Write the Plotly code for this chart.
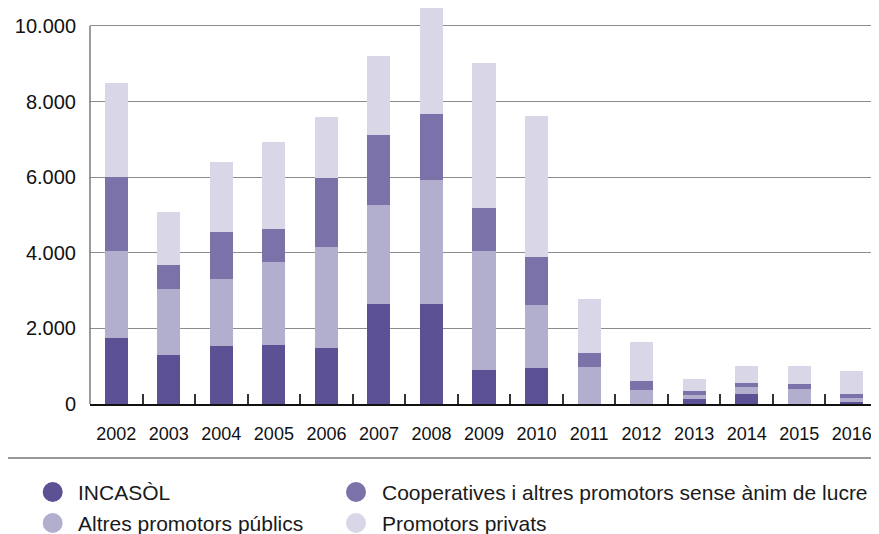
import plotly.graph_objects as go

years = ["2002", "2003", "2004", "2005", "2006", "2007", "2008", "2009",
         "2010", "2011", "2012", "2013", "2014", "2015", "2016"]
incasol = [1750, 1300, 1530, 1560, 1480, 2650, 2650, 900, 950, 0, 0, 130, 260, 0, 50]
altres_publics = [2300, 1740, 1780, 2200, 2670, 2610, 3280, 3150, 1670, 980, 370, 110, 190, 400, 110]
cooperatives = [1950, 640, 1240, 870, 1830, 1860, 1740, 1140, 1270, 370, 240, 100, 110, 130, 100]
privats = [2500, 1400, 1850, 2300, 1610, 2090, 2860, 3830, 3730, 1430, 1030, 320, 440, 470, 610]

names = ["INCASÒL", "Altres promotors públics",
         "Cooperatives i altres promotors sense ànim de lucre", "Promotors privats"]
colors = ["#5b5194", "#b2afce", "#7a72a9", "#d9d7e7"]
series = [incasol, altres_publics, cooperatives, privats]

FONT = "Liberation Sans"
# page body has an 8px margin; figure is sized/positioned accordingly
W, H = 871, 526
ML, MR, MT, MB = 82, 1, 0, 130
YMAX = 10476

fig = go.Figure()
for n, c, s in zip(names, colors, series):
    fig.add_trace(go.Bar(x=years, y=s, name=n, marker=dict(color=c, line=dict(width=0)),
                         showlegend=False))

pw = W - ML - MR
ph = H - MT - MB

def px_x(px):
    return (px - ML) / pw

def px_y(py):
    return (H - MB - py) / ph

shapes = []
# y-axis line up to 10000
shapes.append(dict(type="line", xref="paper", yref="y", x0=0, x1=0, y0=0, y1=10000,
                   line=dict(color="#7a7a7a", width=1.5)))
# separator line below x labels
shapes.append(dict(type="line", xref="paper", yref="paper", x0=px_x(0), x1=px_x(871),
                   y0=px_y(450), y1=px_y(450), line=dict(color="#333333", width=1.2)))

annotations = []
legend_pos = [(44.7, 484, 0), (44.7, 515, 1), (348, 484, 2), (348, 515, 3)]
r = 10
for cx, cy, i in legend_pos:
    shapes.append(dict(type="circle", xref="paper", yref="paper",
                       x0=px_x(cx - r), x1=px_x(cx + r), y0=px_y(cy + r), y1=px_y(cy - r),
                       fillcolor=colors[i], line=dict(width=0)))
    annotations.append(dict(xref="paper", yref="paper", x=px_x(cx + 24.5), y=px_y(cy),
                            text=names[i], showarrow=False, xanchor="left", yanchor="middle",
                            xshift=-1,
                            font=dict(family=FONT, size=21, color="#1a1a1a")))

fig.update_layout(
    width=W, height=H,
    margin=dict(l=ML, r=MR, t=MT, b=MB),
    barmode="stack", bargap=0.56,
    plot_bgcolor="white", paper_bgcolor="white",
    separators=",.",
    showlegend=False,
    shapes=shapes, annotations=annotations,
    xaxis=dict(type="category", tickson="boundaries", ticks="inside", ticklen=10,
               tickcolor="#333333", tickwidth=1.5, showline=True, linecolor="#111111",
               linewidth=1.5, showgrid=False, ticklabelstandoff=13,
               tickfont=dict(family=FONT, size=18, color="#111111")),
    yaxis=dict(range=[0, YMAX], tick0=0, dtick=2000, tickformat=",d", showgrid=True,
               gridcolor="#8c8c8c", gridwidth=1, zeroline=False, showline=False,
               ticks="", ticklabelstandoff=13,
               tickfont=dict(family=FONT, size=20, color="#111111")),
)

fig.write_html("out.html")
